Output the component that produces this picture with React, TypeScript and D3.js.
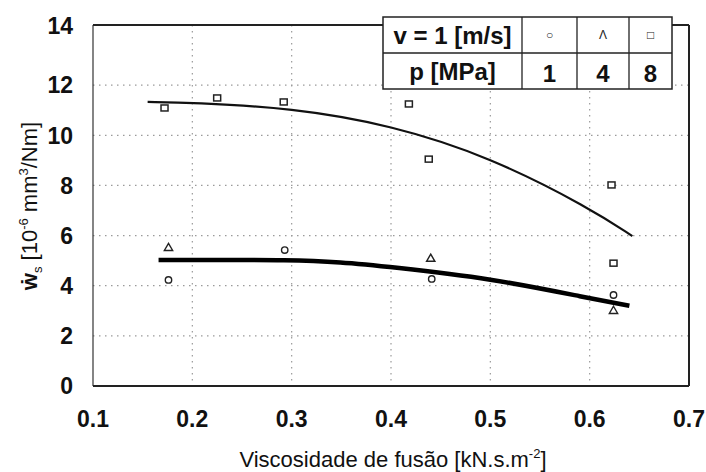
import React from "react";
import * as d3 from "d3";

const W = 706;
const H = 472;

// Data
const xTicks = [0.1, 0.2, 0.3, 0.4, 0.5, 0.6, 0.7];
const yTicks = [0, 2, 4, 6, 8, 10, 12, 14];

const squaresX = [0.172, 0.225, 0.292, 0.418, 0.438, 0.622, 0.624];
const squaresY = [11.09, 11.49, 11.33, 11.25, 9.05, 8.02, 4.9];

const circlesX = [0.176, 0.293, 0.441, 0.624];
const circlesY = [4.23, 5.42, 4.27, 3.63];

const trianglesX = [0.176, 0.44, 0.624];
const trianglesY = [5.5, 5.07, 2.99];

const upperCurveX = [0.155, 0.2, 0.3, 0.4, 0.5, 0.6, 0.643];
const upperCurveY = [11.33, 11.3, 11.09, 10.41, 9.13, 7.1, 5.98];

const lowerCurveX = [0.166, 0.23, 0.293, 0.35, 0.4, 0.5, 0.6, 0.64];
const lowerCurveY = [5.03, 5.03, 5.03, 4.95, 4.75, 4.3, 3.5, 3.2];

const legendSymbols = ["\u25CB", "\u039B", "\u25A1"];
const legendPressures = ["1", "4", "8"];

const left = 93;
const right = 689;
const top = 25;
const bottom = 386;

export default function App() {
  const x = d3.scaleLinear().domain([0.1, 0.7]).range([left, right]);
  const y = d3.scaleLinear().domain([0, 14.4]).range([bottom, top]);

  const line = d3
    .line<[number, number]>()
    .x((d) => x(d[0]))
    .y((d) => y(d[1]))
    .curve(d3.curveBasis);

  const upper = upperCurveX.map((v, i) => [v, upperCurveY[i]] as [number, number]);
  const lower = lowerCurveX.map((v, i) => [v, lowerCurveY[i]] as [number, number]);

  const tri = d3.symbol().type(d3.symbolTriangle).size(30)();

  const font = "'Liberation Sans', Arial, sans-serif";

  // legend table geometry
  const tL = 383, tR = 672, tT = 17, tB = 89, tMid = 53;
  const cols = [tL, 522, 577, 629, tR];

  const yTickPos = (t: number) => (t === 14 ? y(t) - 9 : y(t));

  return (
    <div style={{ position: "absolute", left: 0, top: 0, width: W, height: H, background: "#fff" }}>
      <svg width={W} height={H} style={{ display: "block", fontFamily: font }}>
        <rect x={0} y={0} width={W} height={H} fill="#fff" />
        {/* grid */}
        {yTicks.filter((t) => t > 0 && t < 14).map((t) => (
          <line key={"gy" + t} x1={left} x2={right} y1={y(t)} y2={y(t)} stroke="#9a9a9a" strokeWidth={1.2} strokeDasharray="1.5,4.5" />
        ))}
        {xTicks.filter((t) => t > 0.1 && t < 0.7).map((t) => (
          <line key={"gx" + t} x1={x(t)} x2={x(t)} y1={top} y2={bottom} stroke="#9a9a9a" strokeWidth={1.2} strokeDasharray="1.5,4.5" />
        ))}
        {/* frame */}
        <line x1={left} x2={left} y1={top} y2={bottom} stroke="#333" strokeWidth={1.2} />
        <line x1={left} x2={right} y1={bottom} y2={bottom} stroke="#222" strokeWidth={1.8} />
        <line x1={right} x2={right} y1={top} y2={bottom} stroke="#222" strokeWidth={2} />
        <line x1={left} x2={right} y1={top} y2={top} stroke="#222" strokeWidth={1.8} />

        {/* curves */}
        <path d={line(upper) || ""} fill="none" stroke="#111" strokeWidth={2.2} />
        <path d={line(lower) || ""} fill="none" stroke="#000" strokeWidth={4.5} />

        {/* markers */}
        {squaresX.map((v, i) => (
          <rect key={"s" + i} x={x(v) - 3.5} y={y(squaresY[i]) - 3} width={7} height={6} fill="#fff" stroke="#222" strokeWidth={1.5} />
        ))}
        {circlesX.map((v, i) => (
          <circle key={"c" + i} cx={x(v)} cy={y(circlesY[i])} r={3.2} fill="#fff" stroke="#222" strokeWidth={1.4} />
        ))}
        {trianglesX.map((v, i) => (
          <path key={"t" + i} d={tri || ""} transform={`translate(${x(v)},${y(trianglesY[i])})`} fill="#fff" stroke="#222" strokeWidth={1.4} />
        ))}

        {/* ticks */}
        {yTicks.map((t) => (
          <text key={"yl" + t} x={73} y={yTickPos(t)} dy="0.36em" textAnchor="end" fontSize={23} fontWeight="bold" fill="#111">
            {t}
          </text>
        ))}
        {xTicks.map((t) => (
          <text key={"xl" + t} x={x(t)} y={427} textAnchor="middle" fontSize={23} fontWeight="bold" fill="#111">
            {d3.format(".1f")(t)}
          </text>
        ))}

        {/* axis titles */}
        <text x={393} y={467} textAnchor="middle" fontSize={22} fill="#111">
          Viscosidade de fusão [kN.s.m
          <tspan dy={-9} fontSize={13}>-2</tspan>
          <tspan dy={9}>]</tspan>
        </text>
        <text transform="translate(37,206) rotate(-90)" textAnchor="middle" fontSize={22} fill="#111">
          <tspan fontWeight="bold">ẇ</tspan>
          <tspan dy={5} fontSize={13}>s</tspan>
          <tspan dy={-5}> [10</tspan>
          <tspan dy={-9} fontSize={13}>-6</tspan>
          <tspan dy={9}> mm</tspan>
          <tspan dy={-9} fontSize={13}>3</tspan>
          <tspan dy={9}>/Nm]</tspan>
        </text>

        {/* legend table */}
        <rect x={tL} y={tT} width={tR - tL} height={tB - tT} fill="#fff" stroke="#222" strokeWidth={1.5} />
        <line x1={tL} x2={tR} y1={tMid} y2={tMid} stroke="#222" strokeWidth={1.5} />
        {cols.slice(1, 4).map((c) => (
          <line key={"col" + c} x1={c} x2={c} y1={tT} y2={tB} stroke="#222" strokeWidth={1.3} />
        ))}
        <text x={(cols[0] + cols[1]) / 2} y={(tT + tMid) / 2} dy="0.36em" textAnchor="middle" fontSize={24} fontWeight="bold" fill="#111">
          v = 1 [m/s]
        </text>
        <text x={(cols[0] + cols[1]) / 2} y={(tMid + tB) / 2} dy="0.36em" textAnchor="middle" fontSize={24} fontWeight="bold" fill="#111">
          p [MPa]
        </text>
        {legendSymbols.map((s, i) => (
          <text key={"ls" + i} x={(cols[i + 1] + cols[i + 2]) / 2} y={(tT + tMid) / 2} dy="0.36em" textAnchor="middle" fontSize={12} fill="#222">
            {s}
          </text>
        ))}
        {legendPressures.map((s, i) => (
          <text key={"lp" + i} x={(cols[i + 1] + cols[i + 2]) / 2} y={(tMid + tB) / 2 + 2} dy="0.36em" textAnchor="middle" fontSize={24} fontWeight="bold" fill="#111">
            {s}
          </text>
        ))}
      </svg>
    </div>
  );
}
